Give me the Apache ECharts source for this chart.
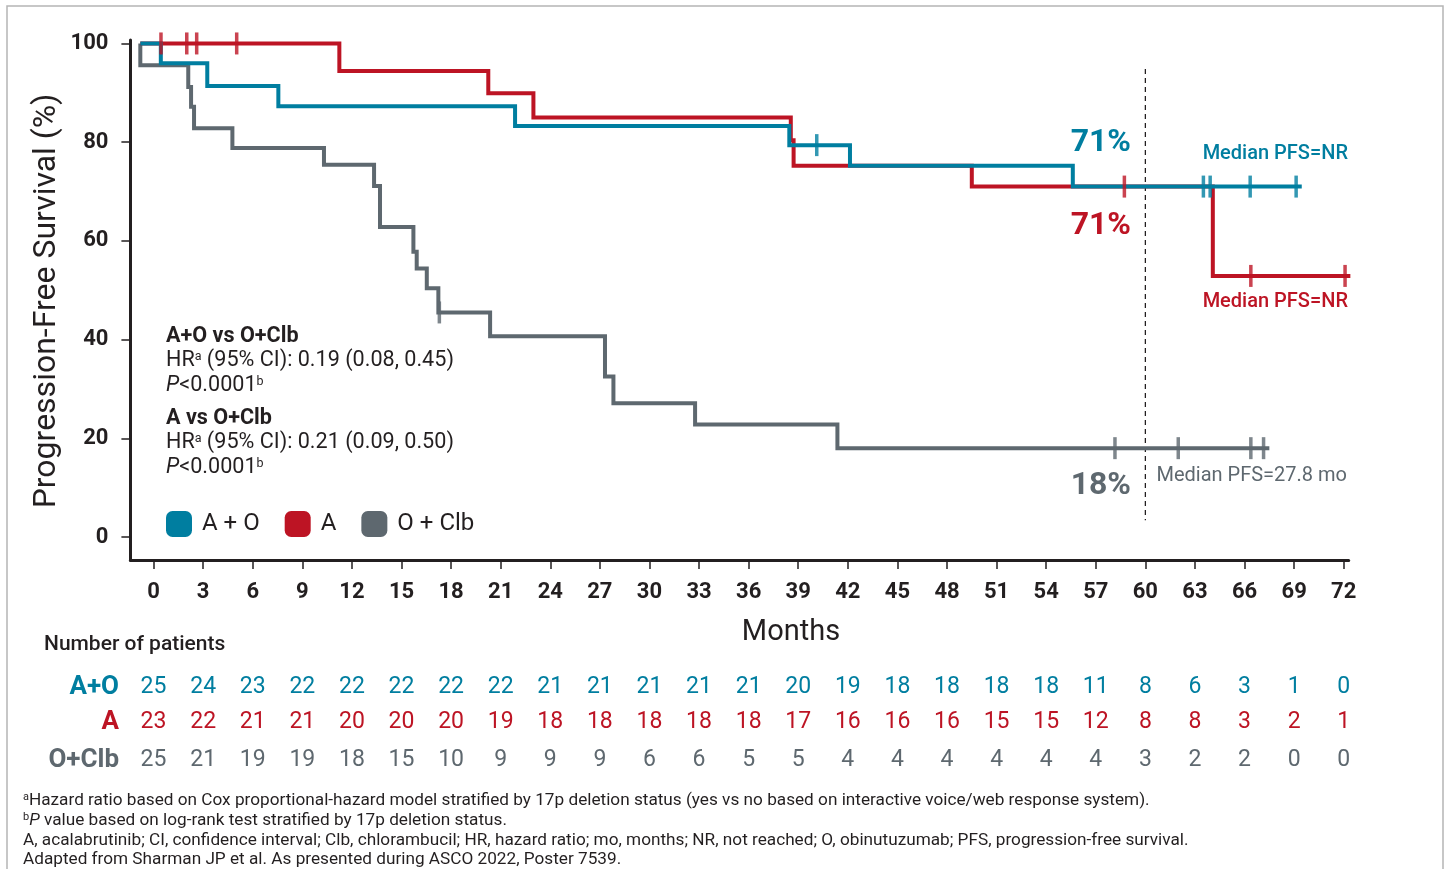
<!DOCTYPE html>
<html>
<head>
<meta charset="utf-8">
<title>Progression-Free Survival</title>
<script src="https://cdn.jsdelivr.net/npm/echarts@6/dist/echarts.min.js"></script>
<style>
  html, body { margin: 0; padding: 0; background: #ffffff; }
  #chart { width: 1448px; height: 869px; }
</style>
</head>
<body>
<div id="chart"></div>
<script>
// ---- data -------------------------------------------------------------
// Kaplan–Meier levels: each time (months) starts a new survival level (%);
// the last entry marks the end of follow-up.
const aoTimes  = [-0.8, 0.44, 3.25, 7.55, 21.87, 38.46, 42.13, 55.61, 69.46];
const aoSurv   = [100, 96.0, 91.4, 87.3, 83.3, 79.4, 75.2, 71, 71];
const aoCensor = [40.12, 63.51, 63.92, 66.34, 69.12];

const aTimes   = [-0.8, 11.24, 20.25, 22.98, 38.55, 38.72, 49.5, 64.08, 72.4];
const aSurv    = [100, 94.4, 89.9, 85.0, 80.4, 75.2, 71, 52.9, 52.9];
const aCensor  = [0.45, 2.01, 2.61, 5.03, 58.73, 66.38, 72.08];

const ocTimes  = [-0.8, -0.8, 2.1, 2.27, 2.45, 4.77, 10.31, 13.34, 13.7, 15.72, 15.92, 16.53, 17.23, 20.36, 27.31, 27.82, 32.76, 41.37, 67.5];
const ocSurv   = [100, 95.6, 91.2, 87.2, 82.8, 78.8, 75.4, 71.1, 62.8, 57.8, 54.4, 50.4, 45.5, 40.7, 32.5, 27.1, 22.8, 18, 18];
const ocCensor = [17.29, 58.16, 61.99, 66.38, 67.15];

const landmarkMonth = 60;
const landmarkSpan  = [94.8, 3.4];

const monthTicks = [0, 3, 6, 9, 12, 15, 18, 21, 24, 27, 30, 33, 36, 39, 42, 45, 48, 51, 54, 57, 60, 63, 66, 69, 72];
const survTicks  = [0, 20, 40, 60, 80, 100];

const riskAO = [25, 24, 23, 22, 22, 22, 22, 22, 21, 21, 21, 21, 21, 20, 19, 18, 18, 18, 18, 11, 8, 6, 3, 1, 0];
const riskA  = [23, 22, 21, 21, 20, 20, 20, 19, 18, 18, 18, 18, 18, 17, 16, 16, 16, 15, 15, 12, 8, 8, 3, 2, 1];
const riskOC = [25, 21, 19, 19, 18, 15, 10, 9, 9, 9, 6, 6, 5, 5, 4, 4, 4, 4, 4, 4, 3, 2, 2, 0, 0];

const armNames = ['A + O', 'A', 'O + Clb'];
const riskLabels = ['A+O', 'A', 'O+Clb'];

// ---- style ------------------------------------------------------------
const FONT = 'Roboto, "Noto Sans", "DejaVu Sans", sans-serif';
const TEAL = '#007ea0';
const RED  = '#bd1424';
const GRAY = '#5e686f';
const INK  = '#231f20';

// ---- helpers ----------------------------------------------------------
function stepPoints(times, surv) {
  const pts = [[times[0], surv[0]]];
  for (let i = 1; i < times.length; i++) {
    pts.push([times[i], surv[i - 1]]);
    pts.push([times[i], surv[i]]);
  }
  return pts;
}
function survivalAt(times, surv, t) {
  let v = surv[0];
  for (let i = 0; i < times.length; i++) if (times[i] <= t) v = surv[i];
  return v;
}
function censorPoints(times, surv, cens) {
  return cens.map(t => [t, survivalAt(times, surv, t)]);
}
function curve(name, color, times, surv, z) {
  return {
    name, type: 'line', data: stepPoints(times, surv), showSymbol: false, symbol: 'none',
    lineStyle: { color, width: 4, cap: 'butt', join: 'miter' }, itemStyle: { color },
    clip: false, z, silent: true, animation: false
  };
}
function censors(name, color, times, surv, cens, z) {
  return {
    name, type: 'scatter', data: censorPoints(times, surv, cens),
    symbol: 'rect', symbolSize: [3.5, 22], itemStyle: { color }, clip: false, z,
    silent: true, animation: false
  };
}

// ---- chart ------------------------------------------------------------
const chart = echarts.init(document.getElementById('chart'), null, { renderer: 'canvas' });

const axisFont = { fontFamily: FONT, fontSize: 22, fontWeight: 'bold', color: INK };

chart.setOption({
  animation: false,
  backgroundColor: '#ffffff',
  grid: { left: 130.4, top: 40, width: 1218.3, height: 520, containLabel: false },
  xAxis: {
    type: 'value', min: -1.4, max: 72.3,
    axisLine: { onZero: false, lineStyle: { color: INK, width: 3 } },
    axisTick: { customValues: monthTicks, length: 9, lineStyle: { color: INK, width: 1.5 } },
    axisLabel: Object.assign({ customValues: monthTicks, margin: 21 }, axisFont),
    splitLine: { show: false }
  },
  yAxis: {
    type: 'value', min: -4.66, max: 100.7,
    axisLine: { show: true, onZero: false, lineStyle: { color: INK, width: 3 } },
    axisTick: { show: true, customValues: survTicks, length: 9, lineStyle: { color: INK, width: 1.5 } },
    axisLabel: Object.assign({ customValues: survTicks, margin: 22 }, axisFont),
    splitLine: { show: false }
  },
  legend: {
    left: 166, top: 511, orient: 'horizontal', padding: 0,
    itemWidth: 26, itemHeight: 26, itemGap: 25, icon: 'roundRect',
    selectedMode: false,
    data: armNames,
    textStyle: { fontFamily: FONT, fontSize: 24, color: INK, padding: [0, 0, 0, 5] }
  },
  series: [
    curve('O + Clb', GRAY, ocTimes, ocSurv, 2),
    curve('A', RED, aTimes, aSurv, 3),
    curve('A + O', TEAL, aoTimes, aoSurv, 4),
    censors('O + Clb', GRAY, ocTimes, ocSurv, ocCensor, 5),
    censors('A', RED, aTimes, aSurv, aCensor, 5),
    censors('A + O', TEAL, aoTimes, aoSurv, aoCensor, 6),
    {
      name: 'landmark', type: 'line', symbol: 'none', silent: true, z: 1,
      data: [[landmarkMonth, landmarkSpan[0]], [landmarkMonth, landmarkSpan[1]]],
      lineStyle: { color: INK, width: 1.3, type: [5, 4] }
    }
  ]
});

// ---- annotations and number-at-risk table -------------------------------
const g = [];
function txt(text, x, y, opts) {
  g.push({
    type: 'text', silent: true, z: 10,
    style: Object.assign({
      text, x, y, fill: INK, fontFamily: FONT, fontSize: 20,
      textAlign: 'left', textVerticalAlign: 'middle'
    }, opts || {})
  });
}

// frame
g.push({
  type: 'rect', silent: true, z: 0,
  shape: { x: 7, y: 6, width: 1436, height: 880 },
  style: { fill: 'none', stroke: '#b5b5b5', lineWidth: 1.5 }
});

// axis titles
g.push({
  type: 'text', silent: true, z: 10, x: 47, y: 301, rotation: Math.PI / 2,
  style: { text: 'Progression-Free Survival (%)', fill: INK, fontFamily: FONT, fontSize: 32,
           textAlign: 'center', textVerticalAlign: 'middle' }
});
txt('Months', 791, 633, { fontSize: 29, textAlign: 'center' });

// landmark percentages and medians
txt('71%', 1131, 143, { fill: TEAL, fontSize: 32, fontWeight: 'bold', textAlign: 'right' });
txt('71%', 1131, 226, { fill: RED, fontSize: 32, fontWeight: 'bold', textAlign: 'right' });
txt('18%', 1131, 486, { fill: GRAY, fontSize: 32, fontWeight: 'bold', textAlign: 'right' });
txt('Median PFS=NR', 1348, 154, { fill: TEAL, fontSize: 20, fontWeight: 500, textAlign: 'right' });
txt('Median PFS=NR', 1348, 302, { fill: RED, fontSize: 20, fontWeight: 500, textAlign: 'right' });
txt('Median PFS=27.8 mo', 1347, 476, { fill: GRAY, fontSize: 20, textAlign: 'right' });

// hazard ratio block
const HRF = 21.6;
const supStyle = { fontFamily: FONT, fontSize: 12.5, verticalAlign: 'top', lineHeight: 22 };
const itStyle = { fontFamily: FONT, fontSize: HRF, fontStyle: 'italic', lineHeight: 22 };
const hrRich = { s: supStyle, i: itStyle, n: { fontFamily: FONT, fontSize: HRF, lineHeight: 22 } };
const hrBlocks = [
  ['A+O vs O+Clb', '0.19 (0.08, 0.45)', 337],
  ['A vs O+Clb', '0.21 (0.09, 0.50)', 419]
];
hrBlocks.forEach(([title, hr, y]) => {
  txt(title, 166, y, { fontSize: HRF, fontWeight: 'bold' });
  txt('{n|HR}{s|a}{n| (95% CI): ' + hr + '}', 166, y + 24, { fontSize: HRF, rich: hrRich });
  txt('{i|P}{n|<0.0001}{s|b}', 166, y + 49, { fontSize: HRF, rich: hrRich });
});

// number at risk
txt('Number of patients', 44, 645, { fontSize: 21, fontWeight: 500 });
const rows = [[riskAO, TEAL, 687], [riskA, RED, 722], [riskOC, GRAY, 760]];
rows.forEach(([vals, color, y], r) => {
  txt(riskLabels[r], 119, y, { fill: color, fontSize: 26, fontWeight: 'bold', textAlign: 'right' });
  vals.forEach((v, i) => {
    const px = chart.convertToPixel({ xAxisIndex: 0 }, monthTicks[i]);
    txt(String(v), px, y, { fill: color, fontSize: 23, textAlign: 'center' });
  });
});

// footnotes
const FNF = 17.2;
const fnRich = {
  s: { fontFamily: FONT, fontSize: 11, verticalAlign: 'top', lineHeight: 19 },
  i: { fontFamily: FONT, fontSize: FNF, fontStyle: 'italic', lineHeight: 19 },
  n: { fontFamily: FONT, fontSize: FNF, lineHeight: 19 }
};
const footnotes = [
  '{s|a}{n|Hazard ratio based on Cox proportional-hazard model stratified by 17p deletion status (yes vs no based on interactive voice/web response system).}',
  '{s|b}{i|P}{n| value based on log-rank test stratified by 17p deletion status.}',
  '{n|A, acalabrutinib; CI, confidence interval; Clb, chlorambucil; HR, hazard ratio; mo, months; NR, not reached; O, obinutuzumab; PFS, progression-free survival.}',
  '{n|Adapted from Sharman JP et al. As presented during ASCO 2022, Poster 7539.}'
];
[801, 821, 841, 860].forEach((y, i) => txt(footnotes[i], 23, y, { fontSize: FNF, rich: fnRich }));

chart.setOption({ graphic: { elements: g } });
</script>
</body>
</html>
